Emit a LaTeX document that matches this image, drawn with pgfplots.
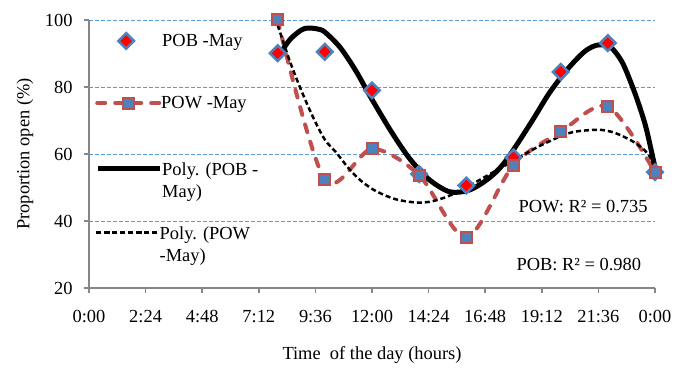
\documentclass[border=0pt]{standalone}
\usepackage{fontspec}
\setmainfont{Liberation Serif}
\usepackage{pgfplots}
\pgfplotsset{compat=1.18}
\definecolor{gridblue}{RGB}{91,155,213}
\definecolor{mblue}{RGB}{79,129,189}
\definecolor{mred}{RGB}{192,80,77}
\definecolor{axgray}{RGB}{134,134,134}
\newcommand{\lgtext}[2]{\begin{tabular}[t]{@{}l@{}}#1\\#2\end{tabular}}
\pgfplotsset{
  legend image code/.code={\draw[mark repeat=2,mark phase=2,#1] plot coordinates {(0bp,0bp) (31bp,0bp) (62bp,0bp)};},
  pobstyle/.style={only marks, mark=square*, mark options={rotate=45, draw=mblue, fill=red, line width=2.5bp}, mark size=5.5bp},
  pobleg/.style={legend image code/.code={\path[draw=none,fill=none] (0bp,-1bp) rectangle (67bp,1bp); \draw[##1] plot coordinates {(31bp,0bp)};}},
  powstyle/.style={mred, line width=4bp, dash pattern=on 8bp off 10bp, line cap=round, smooth,
    mark=square*, mark options={solid, draw=mred, fill=mblue, line width=2bp}, mark size=5.5bp},
  pobpoly/.style={black, line width=5bp, smooth, no marks},
  powpoly/.style={black, line width=2.5bp, dash pattern=on 5bp off 3bp, smooth, no marks},
  legax/.style={scale only axis, width=566bp, height=268bp,
    xmin=0, xmax=24, ymin=20, ymax=100, hide axis,
    legend style={at={(rel axis cs:0,1)}, anchor=north west, draw=none, fill=none,
      inner sep=0pt, nodes={inner sep=0pt},
      /tikz/every even column/.append style={column sep=9bp},
      xshift=6bp, yshift=#1},
    legend cell align=left},
}
\begin{document}
\begin{tikzpicture}[font=\fontsize{18.5}{22}\selectfont]
\begin{axis}[
  scale only axis, width=566bp, height=268bp,
  xmin=0, xmax=24, ymin=20, ymax=100,
  axis x line=bottom, axis y line=left,
  axis line style={-, draw=axgray, line width=1.5bp},
  xtick={0,2.4,4.8,7.2,9.6,12,14.4,16.8,19.2,21.6,24},
  xticklabels={0:00,2:24,4:48,7:12,9:36,12:00,14:24,16:48,19:12,21:36,0:00},
  ytick={20,40,60,80,100},
  tick align=outside, major tick length=5bp,
  tick style={draw=axgray, line width=1.5bp},
  ymajorgrids, grid style={gridblue, dash pattern=on 4bp off 2bp, line width=0.8bp},
  /pgf/number format/assume math mode=true,
  xticklabel style={yshift=-14bp},
  yticklabel style={xshift=-8bp},
  clip=false,
]
\addplot[pobstyle]
  coordinates {(8,90.1) (10,90.5) (12,79) (14,54) (16,50.6) (18,59) (20,84.5) (22,93.1) (24,54.6)};
\addplot[powstyle]
  coordinates {(8,100) (10,52.3) (12,61.5) (14,53.7) (16,35.1) (18,56.7) (20,66.6) (22,74.2) (24,54.5)};
\addplot[pobpoly]
  coordinates {(8,88.7) (8.5,94) (9,97) (9.3,97.6) (9.7,97.3) (10,96.4) (10.65,91.8) (11.3,85) (11.9,77.5) (12.7,68) (13.3,61.5) (13.75,57.3) (14.45,52.2) (15.3,48.7) (16.15,49.3) (17,53) (17.7,58.2) (18.8,70) (19.5,78) (20.25,85) (21,90.5) (21.55,92.5) (22.1,92) (22.6,87.5) (23.05,80) (23.4,73) (23.65,67) (24,56)};
\addplot[powpoly]
  coordinates {(8,98.5) (8.5,88) (9,79) (9.5,71) (10,64.3) (10.5,60.3) (11,55.8) (11.5,52.2) (12,49.6) (12.5,47.8) (13,46.5) (13.5,45.8) (14,45.5) (14.5,45.8) (15,46.8) (15.5,48.2) (16,50) (17,54) (18,58) (19,62) (20,65.3) (20.5,66.5) (21,67) (21.7,67.2) (22.3,66.3) (23,64) (23.5,61.5) (23.8,59) (24,56)};
\node[anchor=west] at (axis cs:18.07,44.2) {POW: R² = 0.735};
\node[anchor=west] at (axis cs:17.98,26.9) {POB: R² = 0.980};
\node[rotate=90] at ([xshift=-64bp]rel axis cs:0,0.5) {Proportion open (\%)};
\node at ([yshift=-67bp]rel axis cs:0.5,0) {Time~ of the day (hours)};
\path ([xshift=-89bp,yshift=-80bp]rel axis cs:0,0) rectangle ([xshift=31bp,yshift=20bp]rel axis cs:1,1);
\end{axis}
\begin{axis}[legax=-13bp]
\addlegendimage{pobstyle, pobleg}
\addlegendentry{POB -May}
\end{axis}
\begin{axis}[legax=-76bp]
\addlegendimage{powstyle}
\addlegendentry{POW -May}
\end{axis}
\begin{axis}[legax=-140bp]
\addlegendimage{pobpoly}
\addlegendentry{\lgtext{Poly. (POB -}{May)}}
\end{axis}
\begin{axis}[legax=-204bp]
\addlegendimage{powpoly}
\addlegendentry{\lgtext{Poly. (POW}{-May)}}
\end{axis}
\end{tikzpicture}
\end{document}
